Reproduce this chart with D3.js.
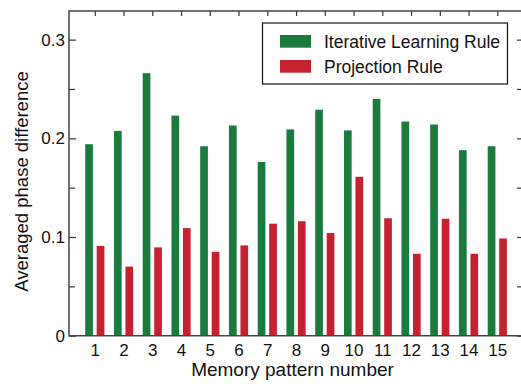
<!DOCTYPE html>
<html>
<head>
<meta charset="utf-8">
<script src="https://cdn.jsdelivr.net/npm/d3@7"></script>
<style>
  body { margin: 0; background: #fff; }
  text { font-family: "Liberation Sans", Arial, sans-serif; fill: #111; }
</style>
</head>
<body>
<script>
// values
const patterns = [1, 2, 3, 4, 5, 6, 7, 8, 9, 10, 11, 12, 13, 14, 15];
const iterative = [0.194, 0.2075, 0.266, 0.223, 0.192, 0.213, 0.176, 0.209, 0.229, 0.208, 0.240, 0.217, 0.214, 0.188, 0.192];
const projection = [0.091, 0.070, 0.0895, 0.109, 0.085, 0.0915, 0.1135, 0.116, 0.104, 0.161, 0.119, 0.083, 0.1185, 0.083, 0.0985];
const seriesNames = ["Iterative Learning Rule", "Projection Rule"];
const seriesColors = ["#1b7b3f", "#c62131"];
const majorTicks = [0, 0.1, 0.2, 0.3];
const minorTicks = [0.05, 0.15, 0.25];

const width = 521, height = 390;
const plotLeft = 69, plotTop = 11, plotBottom = 335.7, plotRight = 521;

let svg = d3.select("body").append("svg")
  .attr("width", width)
  .attr("height", height);

let x = d3.scalePoint()
  .domain(patterns)
  .range([94.8, 497.3]);

let xSub = d3.scaleBand()
  .domain(seriesNames)
  .range([-9.6, 9.6])
  .paddingInner(0.33);

let y = d3.scaleLinear()
  .domain([0, 0.329])
  .range([plotBottom, plotTop]);

let color = d3.scaleOrdinal(seriesNames, seriesColors);

let rows = patterns.map((p, i) => ({ p: p, vals: [iterative[i], projection[i]] }));

// bars
let groups = svg.append("g").selectAll("g")
  .data(rows)
  .join("g")
  .attr("transform", (d) => `translate(${x(d.p)},0)`);

groups.selectAll("rect")
  .data((d) => d.vals.map((v, j) => ({ name: seriesNames[j], v: v })))
  .join("rect")
  .attr("x", (d) => xSub(d.name))
  .attr("width", xSub.bandwidth())
  .attr("y", (d) => y(d.v))
  .attr("height", (d) => y(0) - y(d.v))
  .attr("fill", (d) => color(d.name));

let axisStyle = (g) => {
  g.select(".domain").remove();
  g.selectAll("line").attr("stroke", "#333").attr("stroke-width", 1.2);
  g.selectAll("text").attr("font-size", 17).attr("fill", "#111");
};

// left axis, inward ticks
svg.append("g")
  .attr("transform", `translate(${plotLeft},0)`)
  .call(d3.axisLeft(y).tickValues(majorTicks).tickFormat(d3.format("~g"))
    .tickSizeInner(-7).tickSizeOuter(0).tickPadding(4))
  .call(axisStyle);

svg.append("g")
  .attr("transform", `translate(${plotLeft},0)`)
  .call(d3.axisLeft(y).tickValues(minorTicks).tickFormat("")
    .tickSizeInner(-6).tickSizeOuter(0))
  .call(axisStyle);

// right ticks
svg.append("g")
  .attr("transform", `translate(${plotRight},0)`)
  .call(d3.axisRight(y).tickValues(majorTicks.concat(minorTicks)).tickFormat("")
    .tickSizeInner(-4).tickSizeOuter(0))
  .call(axisStyle);

// top ticks
svg.append("g")
  .attr("transform", `translate(0,${plotTop})`)
  .call(d3.axisTop(x).tickFormat("").tickSizeInner(-5).tickSizeOuter(0))
  .call(axisStyle);

// bottom labels
svg.append("g")
  .attr("transform", `translate(0,${plotBottom})`)
  .call(d3.axisBottom(x).tickSizeInner(0).tickSizeOuter(0).tickPadding(8))
  .call(axisStyle);

// frame lines
svg.append("path")
  .attr("d", `M${plotRight},${plotTop}H${plotLeft}V${plotBottom}H${plotRight}`)
  .attr("fill", "none")
  .attr("stroke", "#444")
  .attr("stroke-width", 1.5);

// axis titles
svg.append("text")
  .attr("x", 292.5)
  .attr("y", 375.5)
  .attr("text-anchor", "middle")
  .attr("font-size", 19)
  .text("Memory pattern number");

svg.append("text")
  .attr("transform", "translate(28,181.5) rotate(-90)")
  .attr("text-anchor", "middle")
  .attr("font-size", 18.5)
  .text("Averaged phase difference");

// legend
let legend = svg.append("g");
legend.append("rect")
  .attr("x", 262.5)
  .attr("y", 23)
  .attr("width", 245)
  .attr("height", 61)
  .attr("fill", "#fff")
  .attr("stroke", "#111")
  .attr("stroke-width", 1.2);

let items = legend.selectAll("g.item")
  .data(seriesNames)
  .join("g")
  .attr("class", "item")
  .attr("transform", (d, i) => `translate(280,${35 + i * 25})`);

items.append("rect")
  .attr("width", 31)
  .attr("height", 12.7)
  .attr("fill", (d) => color(d));

items.append("text")
  .attr("x", 44)
  .attr("y", 12.9)
  .attr("font-size", 17.5)
  .text((d) => d);
</script>
</body>
</html>
